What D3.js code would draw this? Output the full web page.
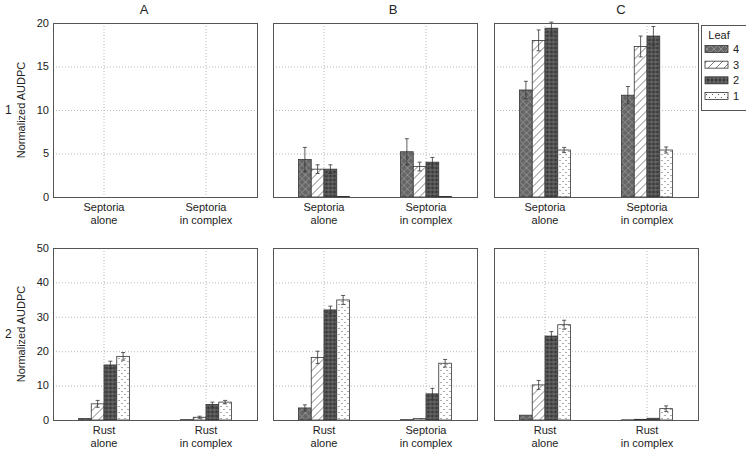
<!DOCTYPE html>
<html lang="en">
<head>
  <meta charset="UTF-8" />
  <title>Normalized AUDPC by leaf</title>
  <style>
    html, body { margin: 0; padding: 0; background: #fff; overflow: hidden; }
    svg { font-family: "Liberation Sans", Arial, sans-serif; }
    .grid line { stroke: #b8b8b8; stroke-dasharray: 1 2; stroke-width: 1; }
    .frame { fill: none; stroke: #555; stroke-width: 1; }
    .tick { font-size: 11px; fill: #222; }
    .cat { font-size: 11px; fill: #222; }
    .bar { stroke: #333; stroke-width: 0.8; }
    .err { stroke: #333; stroke-width: 0.8; fill: none; }
  </style>
</head>
<body>
<svg width="746" height="449"></svg>
<script src="https://d3js.org/d3.v7.min.js"></script>
<script>
  // ---- data ----
  const columns = ["A", "B", "C"];
  const rowNames = ["1", "2"];
  const leaves = ["4", "3", "2", "1"];

  const row1Cats = [
    ["Septoria alone", "Septoria in complex"],
    ["Septoria alone", "Septoria in complex"],
    ["Septoria alone", "Septoria in complex"]
  ];
  const row2Cats = [
    ["Rust alone", "Rust in complex"],
    ["Rust alone", "Septoria in complex"],
    ["Rust alone", "Rust in complex"]
  ];

  // values per panel -> category -> leaf (4,3,2,1)
  const row1Values = [
    [[0, 0, 0, 0], [0, 0, 0, 0]],
    [[4.3, 3.2, 3.2, 0.05], [5.2, 3.5, 4.0, 0.05]],
    [[12.3, 18.0, 19.4, 5.4], [11.7, 17.3, 18.5, 5.4]]
  ];
  const row1Errors = [
    [[0, 0, 0, 0], [0, 0, 0, 0]],
    [[1.4, 0.5, 0.5, 0], [1.5, 0.5, 0.55, 0]],
    [[1.0, 1.2, 0.7, 0.3], [1.0, 1.2, 1.1, 0.35]]
  ];
  const row2Values = [
    [[0.4, 4.7, 16.0, 18.5], [0.1, 0.8, 4.5, 5.2]],
    [[3.5, 18.2, 32.0, 34.9], [0.1, 0.4, 7.6, 16.5]],
    [[1.4, 10.2, 24.4, 27.7], [0.05, 0.2, 0.5, 3.3]]
  ];
  const row2Errors = [
    [[0, 1.0, 1.1, 1.1], [0, 0.3, 0.7, 0.5]],
    [[0.9, 1.8, 1.1, 1.3], [0, 0, 1.6, 1.1]],
    [[0, 1.3, 1.3, 1.3], [0, 0, 0, 0.8]]
  ];

  const row1Ticks = [0, 5, 10, 15, 20];
  const row2Ticks = [0, 10, 20, 30, 40, 50];

  // ---- layout ----
  const svg = d3.select("svg");
  const panelLeft = [53, 273, 494];
  const panelWidth = 204;
  const letterX = [144, 393, 621];
  const rows = [
    { top: 23, bottom: 197, max: 20, ticks: row1Ticks, cats: row1Cats, vals: row1Values, errs: row1Errors },
    { top: 248, bottom: 420, max: 50, ticks: row2Ticks, cats: row2Cats, vals: row2Values, errs: row2Errors }
  ];

  // ---- patterns ----
  const defs = svg.append("defs");
  const p4 = defs.append("pattern").attr("id", "leaf4")
    .attr("patternUnits", "userSpaceOnUse").attr("width", 7).attr("height", 7);
  p4.append("rect").attr("width", 7).attr("height", 7).attr("fill", "#666");
  p4.append("path").attr("d", "M0,0L7,7M7,0L0,7").attr("stroke", "#a0a0a0").attr("stroke-width", 0.7);

  const p3 = defs.append("pattern").attr("id", "leaf3")
    .attr("patternUnits", "userSpaceOnUse").attr("width", 8).attr("height", 8);
  p3.append("rect").attr("width", 8).attr("height", 8).attr("fill", "#fff");
  p3.append("path").attr("d", "M-1,9L9,-1M-1,1L1,-1M7,9L9,7").attr("stroke", "#444").attr("stroke-width", 0.7);

  const p2 = defs.append("pattern").attr("id", "leaf2")
    .attr("patternUnits", "userSpaceOnUse").attr("width", 4).attr("height", 4);
  p2.append("rect").attr("width", 4).attr("height", 4).attr("fill", "#3a3a3a");
  p2.append("circle").attr("cx", 2).attr("cy", 2).attr("r", 1.2)
    .attr("fill", "none").attr("stroke", "#9a9a9a").attr("stroke-width", 0.6);

  const p1 = defs.append("pattern").attr("id", "leaf1")
    .attr("patternUnits", "userSpaceOnUse").attr("width", 6).attr("height", 6);
  p1.append("rect").attr("width", 6).attr("height", 6).attr("fill", "#fff");
  p1.append("circle").attr("cx", 1.5).attr("cy", 1.5).attr("r", 0.6).attr("fill", "#444");
  p1.append("circle").attr("cx", 4.5).attr("cy", 4.5).attr("r", 0.6).attr("fill", "#444");

  const fills = leaves.map(l => `url(#leaf${l})`);

  // ---- panels ----
  rows.forEach((row, ri) => {
    const y = d3.scaleLinear().domain([0, row.max]).range([row.bottom, row.top]);

    columns.forEach((col, ci) => {
      const x0 = panelLeft[ci];
      const x = d3.scaleBand().domain(row.cats[ci].map((_, i) => i))
        .range([x0, x0 + panelWidth]).paddingInner(0.5).paddingOuter(0.25);
      const xl = d3.scaleBand().domain(leaves).range([0, x.bandwidth()]);
      const g = svg.append("g");

      // grid
      const grid = g.append("g").attr("class", "grid");
      grid.selectAll(".gy").data(row.ticks.slice(1, -1)).join("line")
        .attr("x1", x0).attr("x2", x0 + panelWidth)
        .attr("y1", d => y(d) + 0.5).attr("y2", d => y(d) + 0.5);
      grid.selectAll(".gx").data(row.cats[ci].map((_, i) => i)).join("line")
        .attr("x1", d => x(d) + x.bandwidth() / 2).attr("x2", d => x(d) + x.bandwidth() / 2)
        .attr("y1", row.top).attr("y2", row.bottom);

      // bars
      row.vals[ci].forEach((vals, k) => {
        const bg = g.append("g").attr("transform", `translate(${x(k)},0)`);
        bg.selectAll("rect").data(vals).join("rect")
          .attr("class", "bar")
          .attr("x", (d, i) => xl(leaves[i]))
          .attr("width", xl.bandwidth())
          .attr("y", d => y(d))
          .attr("height", d => y(0) - y(d))
          .attr("fill", (d, i) => fills[i]);

        const errs = row.errs[ci][k];
        vals.forEach((v, i) => {
          const e = errs[i];
          if (!e) return;
          const cx = xl(leaves[i]) + xl.bandwidth() / 2;
          const yt = Math.max(y(v + e), row.top - 3);
          const yb = y(v - e);
          bg.append("path").attr("class", "err")
            .attr("d", `M${cx},${yt}V${yb}M${cx - 2},${yt}H${cx + 2}M${cx - 2},${yb}H${cx + 2}`);
        });
      });

      // frame
      g.append("rect").attr("class", "frame")
        .attr("x", x0 + 0.5).attr("y", row.top + 0.5)
        .attr("width", panelWidth).attr("height", row.bottom - row.top);

      // category labels
      row.cats[ci].forEach((c, k) => {
        const sp = c.indexOf(" ");
        const t = g.append("text").attr("class", "cat").attr("text-anchor", "middle")
          .attr("x", x(k) + x.bandwidth() / 2).attr("y", row.bottom + 14);
        t.append("tspan").attr("x", x(k) + x.bandwidth() / 2).text(c.slice(0, sp));
        t.append("tspan").attr("x", x(k) + x.bandwidth() / 2).attr("dy", 13).text(c.slice(sp + 1));
      });

      // y tick labels only on first column
      if (ci === 0) {
        g.selectAll(".tick").data(row.ticks).join("text")
          .attr("class", "tick").attr("text-anchor", "end")
          .attr("x", x0 - 4).attr("y", d => y(d)).attr("dy", "0.35em")
          .text(d => d);
        svg.append("text").attr("font-size", 11).attr("fill", "#222")
          .attr("text-anchor", "middle")
          .attr("transform", `translate(25,${(row.top + row.bottom) / 2}) rotate(-90)`)
          .text("Normalized AUDPC");
        svg.append("text").attr("font-size", 12).attr("fill", "#222")
          .attr("x", 5).attr("y", (row.top + row.bottom) / 2).attr("dy", "0.35em")
          .text(rowNames[ri]);
      }

      if (ri === 0) {
        svg.append("text").attr("font-size", 13).attr("fill", "#222")
          .attr("text-anchor", "middle")
          .attr("x", letterX[ci]).attr("y", 14)
          .text(col);
      }
    });
  });

  // ---- legend ----
  const lg = svg.append("g");
  lg.append("rect").attr("x", 701.5).attr("y", 25.5).attr("width", 50).attr("height", 85)
    .attr("fill", "#fff").attr("stroke", "#555");
  lg.append("text").attr("x", 719).attr("y", 39).attr("font-size", 11).attr("fill", "#222")
    .attr("text-anchor", "middle").text("Leaf");
  const ly = d3.scalePoint().domain(leaves).range([49, 96]);
  leaves.forEach((l, i) => {
    lg.append("rect").attr("class", "bar").attr("x", 705).attr("y", ly(l) - 3.5)
      .attr("width", 23).attr("height", 7).attr("fill", fills[i]);
    lg.append("text").attr("x", 733).attr("y", ly(l)).attr("dy", "0.35em")
      .attr("font-size", 11).attr("fill", "#222").text(l);
  });
</script>
</body>
</html>
